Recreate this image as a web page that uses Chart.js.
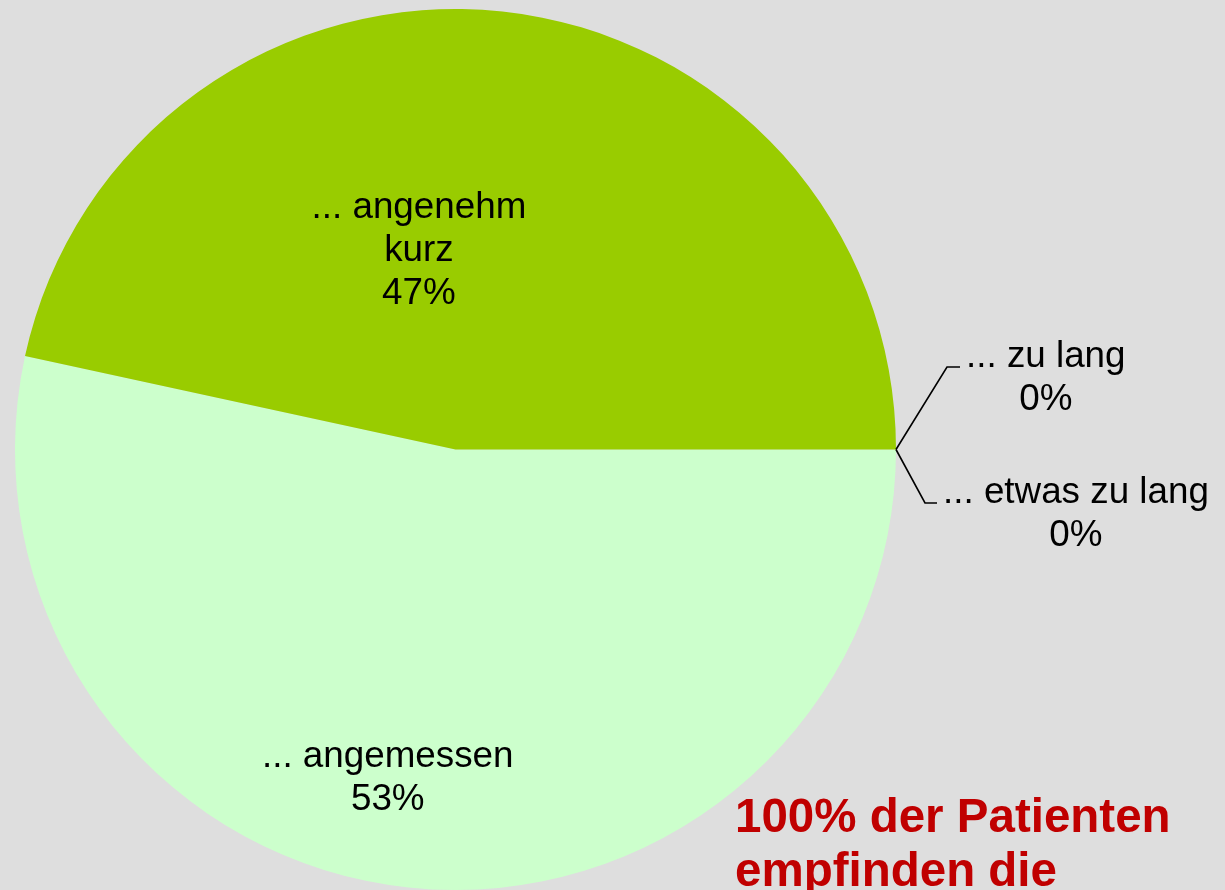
<!DOCTYPE html>
<html lang="de">
<head>
<meta charset="utf-8">
<title>Wartezeit</title>
<script src="https://cdn.jsdelivr.net/npm/chart.js@4/dist/chart.umd.min.js"></script>
<style>
    html, body { margin: 0; padding: 0; background: #dedede; overflow: hidden; }
    #wrap { position: relative; width: 1225px; height: 890px; }
</style>
</head>
<body>
<div id="wrap"><canvas id="pieChart"></canvas></div>
<script>
// Data
const labels = ['... angemessen', '... angenehm kurz', '... zu lang', '... etwas zu lang'];
const labelLines = [['... angemessen'], ['... angenehm', 'kurz'], ['... zu lang'], ['... etwas zu lang']];
const percentTexts = ['53%', '47%', '0%', '0%'];
const values = [53.4, 46.6, 0, 0];
const colors = ['#ccffcc', '#99cc00', '#ffcc99', '#ff9900'];
const noteLines = ['100% der Patienten', 'empfinden die'];

const FONT = '"Liberation Sans", Arial, sans-serif';

// label placement: inner labels by angle / radius fraction, outer ones with a leader
const placement = [
    { inside: true, angle: 101.3, frac: 0.785 },
    { inside: true, angle: -101.0, frac: 0.435 },
    { inside: false, dx: 51, dy: -82.5, tail: 13 },
    { inside: false, dx: 29, dy: 53.5, tail: 12 }
];

const sliceLabels = {
    id: 'sliceLabels',
    afterDatasetsDraw(chart) {
        const ctx = chart.ctx;
        const meta = chart.getDatasetMeta(0);
        const lh = 43;
        ctx.save();
        ctx.font = '36.8px ' + FONT;
        ctx.fillStyle = '#000';
        ctx.textBaseline = 'alphabetic';
        meta.data.forEach((arc, i) => {
            const p = arc.getProps(['x', 'y', 'startAngle', 'endAngle', 'outerRadius'], true);
            const lines = labelLines[i].concat([percentTexts[i]]);
            const pl = placement[i];
            if (pl.inside) {
                const a = pl.angle * Math.PI / 180;
                const cx = p.x + Math.cos(a) * p.outerRadius * pl.frac;
                const cy = p.y + Math.sin(a) * p.outerRadius * pl.frac;
                const first = cy - (lines.length - 1) * lh / 2;
                ctx.textAlign = 'center';
                lines.forEach((t, k) => ctx.fillText(t, cx, first + k * lh));
            } else {
                const mid = (p.startAngle + p.endAngle) / 2;
                const sx = p.x + Math.cos(mid) * p.outerRadius;
                const sy = p.y + Math.sin(mid) * p.outerRadius;
                const ex = sx + pl.dx, ey = sy + pl.dy;
                ctx.strokeStyle = '#000';
                ctx.lineWidth = 1.6;
                ctx.beginPath();
                ctx.moveTo(sx, sy);
                ctx.lineTo(ex, ey);
                ctx.lineTo(ex + pl.tail, ey);
                ctx.stroke();
                const w = Math.max(...lines.map(t => ctx.measureText(t).width));
                const cx = ex + pl.tail + 6 + w / 2;
                ctx.textAlign = 'center';
                lines.forEach((t, k) => ctx.fillText(t, cx, ey + k * lh));
            }
        });
        // red note
        ctx.font = 'bold 47.5px ' + FONT;
        ctx.fillStyle = '#c00000';
        ctx.textAlign = 'left';
        noteLines.forEach((t, k) => ctx.fillText(t, 735, 832 + k * 54));
        ctx.restore();
    }
};

const bg = {
    id: 'bg',
    beforeDraw(chart) {
        const ctx = chart.ctx;
        ctx.save();
        ctx.fillStyle = '#dedede';
        ctx.fillRect(0, 0, chart.width, chart.height);
        ctx.restore();
    }
};

new Chart(document.getElementById('pieChart'), {
    type: 'pie',
    data: {
        labels: labels,
        datasets: [{
            data: values,
            backgroundColor: colors,
            borderWidth: 0
        }]
    },
    options: {
        responsive: true,
        maintainAspectRatio: false,
        animation: false,
        rotation: 90,
        layout: { padding: { left: 15, right: 329, top: 9, bottom: 0 } },
        plugins: {
            legend: { display: false },
            tooltip: { enabled: false }
        }
    },
    plugins: [bg, sliceLabels]
});
</script>
</body>
</html>
